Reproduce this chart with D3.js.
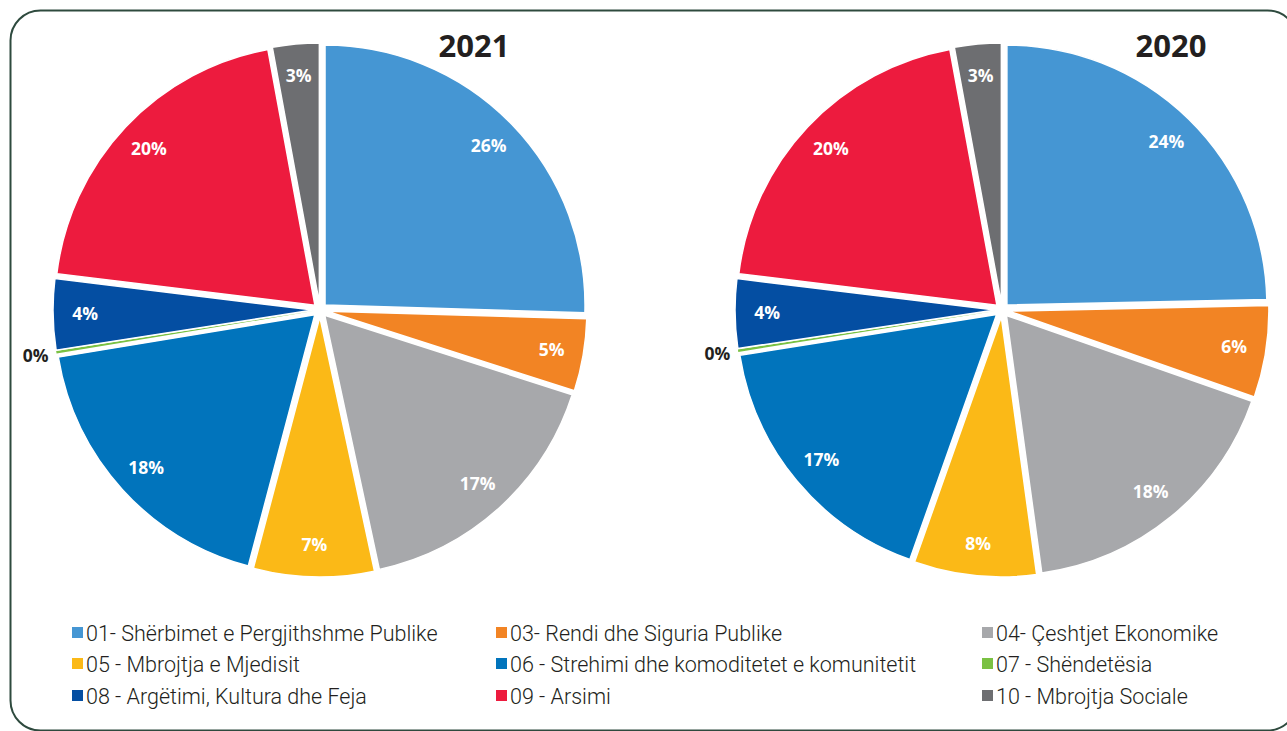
<!DOCTYPE html>
<html><head><meta charset="utf-8">
<script src="https://cdn.jsdelivr.net/npm/d3@7"></script>
<style>body{margin:0;background:#fff}svg{display:block}</style>
</head><body><svg id="c" width="1287" height="731"></svg>
<script>
const categories = ["01- Shërbimet e Pergjithshme Publike","03- Rendi dhe Siguria Publike","04- Çeshtjet Ekonomike","05 - Mbrojtja e Mjedisit","06 - Strehimi dhe komoditetet e komunitetit","07 - Shëndetësia","08 - Argëtimi, Kultura dhe Feja","09 - Arsimi","10 - Mbrojtja Sociale"];
const values2021 = [25.5, 4.5, 16.7, 7.5, 18.3, 0.15, 4.4, 20.2, 2.9];
const values2020 = [24.7, 5.7, 17.5, 7.6, 17.1, 0.15, 4.3, 20.2, 2.9];
const labels2021 = ["26%","5%","17%","7%","18%","0%","4%","20%","3%"];
const labels2020 = ["24%","6%","18%","8%","17%","0%","4%","20%","3%"];
const years = ["2021","2020"];
const colors = ["#4596d3","#f28424","#a7a8ab","#fbb917","#0174bc","#7ac143","#044ea2","#ed1b3e","#6d6e71"];

const svg = d3.select("#c");
svg.append("rect").attr("x",10.5).attr("y",10.5).attr("width",1287).attr("height",720)
  .attr("rx",30).attr("fill","none").attr("stroke","#2e4a3e").attr("stroke-width",2);

const R = 260, OFF = 7, LR = 228;
const pie = d3.pie().sort(null).value(d=>d);
const arc = d3.arc().innerRadius(0).outerRadius(R);
const color = d3.scaleOrdinal().domain(categories).range(colors);

function drawPie(cx, cy, vals, labs, year, titleX){
  const g = svg.append("g").attr("transform",`translate(${cx},${cy})`);
  const arcs = pie(vals);
  arcs.forEach((a,i)=>{
    const mid = (a.startAngle+a.endAngle)/2;
    const ox = Math.sin(mid)*OFF, oy = -Math.cos(mid)*OFF;
    g.append("path").attr("d",arc(a)).attr("fill",color(categories[i]))
      .attr("transform",`translate(${ox},${oy})`)
      .attr("stroke", i===5 ? "none" : "#fff").attr("stroke-width",1.5);
    const isZero = labs[i]==="0%";
    const lr = isZero ? 288 : LR + OFF;
    const lx = Math.sin(mid)*lr, ly = -Math.cos(mid)*lr;
    g.append("text").attr("x",lx).attr("y",ly).attr("dy","0.35em")
      .attr("text-anchor","middle")
      .attr("font-family","'Open Sans', sans-serif").attr("font-weight",700)
      .attr("font-size",17.5).attr("fill", isZero ? "#231f20" : "#fff")
      .text(labs[i]);
  });
  svg.append("text").attr("x",titleX).attr("y",57).attr("text-anchor","middle")
    .attr("font-family","'Open Sans', sans-serif").attr("font-weight",700)
    .attr("font-size",31).attr("fill","#231f20").text(year);
}
drawPie(320, 310, values2021, labels2021, years[0], 474);
drawPie(1002, 310, values2020, labels2020, years[1], 1171);

// legend
const colX = [72, 496, 982], rowY = [633, 664, 696];
categories.forEach((c,i)=>{
  const x = colX[i%3], y = rowY[Math.floor(i/3)];
  svg.append("rect").attr("x",x).attr("y",y-6).attr("width",11).attr("height",11).attr("fill",color(c));
  svg.append("text").attr("x",x+14).attr("y",y).attr("dy","0.36em")
    .attr("font-family","Roboto, sans-serif").attr("font-weight",300)
    .attr("font-size",21.5).attr("fill","#231f20").text(c);
});
</script></body></html>
